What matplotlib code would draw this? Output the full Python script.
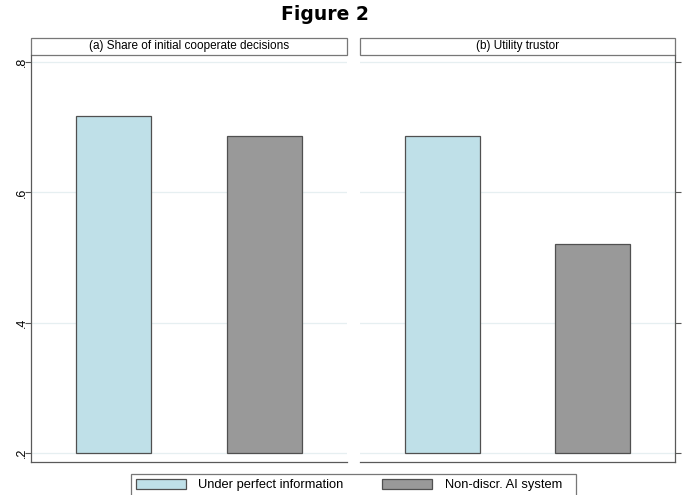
import matplotlib.pyplot as plt
from matplotlib.patches import Rectangle, Patch

plt.rcParams['font.family'] = ['Liberation Sans', 'DejaVu Sans']

# Means by treatment
groups = ['Under perfect information', 'Non-discr. AI system']
share_coop = [0.717, 0.686]
utility_trustor = [17.15, 13.0]

panel_titles = ['(a) Share of initial cooperate decisions', '(b) Utility trustor']
left_ticks = [0.2, 0.4, 0.6, 0.8]
left_ticklabels = ['.2', '.4', '.6', '.8']
right_ticks = [5, 10, 15, 20]

colors = ['#bfe0e8', '#999999']
edge = '#505050'
spine_col = '#595959'

fig = plt.figure(figsize=(6.88, 4.95), dpi=100)
W, H = 688, 495
bot, top = 462, 55
ax1 = fig.add_axes([31 / W, (H - bot) / H, 316 / W, (bot - top) / H])
ax2 = fig.add_axes([360 / W, (H - bot) / H, 315 / W, (bot - top) / H])


def draw_panel(ax, vals, base, ylim, ticks, ticklabels, title, side):
    ax.bar([0, 1], [v - base for v in vals], bottom=base, width=0.5,
           color=colors, edgecolor=edge, linewidth=0.9, zorder=3)
    ax.set_xlim(-0.546, 1.546)
    ax.set_ylim(*ylim)
    ax.set_xticks([])
    ax.set_yticks(ticks)
    ax.set_yticklabels(ticklabels, rotation=90 if side == 'left' else 270,
                       va='center', fontsize=9)
    for t in ticks:
        ax.axhline(t, color='#e6eff1', linewidth=0.9, zorder=1)
    for s in ['top', 'right', 'left', 'bottom']:
        ax.spines[s].set_visible(False)
    for s in ['bottom', side]:
        ax.spines[s].set_visible(True)
        ax.spines[s].set_color(spine_col)
        ax.spines[s].set_linewidth(0.9)
    if side == 'right':
        ax.yaxis.tick_right()
    ax.tick_params(axis='y', length=4, width=0.8, color=spine_col,
                   pad=-2 if side == 'left' else 2)
    # title strip above the plot area
    h = 17 / (bot - top)
    ax.add_patch(Rectangle((0, 1), 1, h, transform=ax.transAxes, clip_on=False,
                           facecolor='white', edgecolor='#777777', linewidth=0.9))
    ax.text(0.5, 1 + h / 2, title, transform=ax.transAxes, ha='center',
            va='center', fontsize=8.5)


draw_panel(ax1, share_coop, 0.2, (0.1862, 0.8107), left_ticks, left_ticklabels,
           panel_titles[0], 'left')
draw_panel(ax2, utility_trustor, 5, (4.655, 20.27), right_ticks,
           [str(t) for t in right_ticks], panel_titles[1], 'right')

fig.text(325 / W, 1 - 14 / H, 'Figure 2', ha='center', va='center',
         fontsize=13.5, fontweight='bold', family=['DejaVu Sans'])

# legend entries without frame, frame drawn as a box underneath
handles = [Patch(facecolor=c, edgecolor=edge, linewidth=0.9) for c in colors]
leg = fig.legend(handles, groups, loc='upper left', ncol=2,
                 bbox_to_anchor=(131 / W, 1 - 474 / H), fontsize=9.25,
                 frameon=False, handlelength=3.9, handleheight=0.78,
                 handletextpad=0.95, columnspacing=3.0, borderpad=0.4,
                 borderaxespad=0)
fig.patches.append(Rectangle((131 / W, -0.02), 445 / W, 0.02 + 21 / H,
                             transform=fig.transFigure, facecolor='none',
                             edgecolor='#777777', linewidth=0.9))

fig.savefig('out.png', dpi=100)
